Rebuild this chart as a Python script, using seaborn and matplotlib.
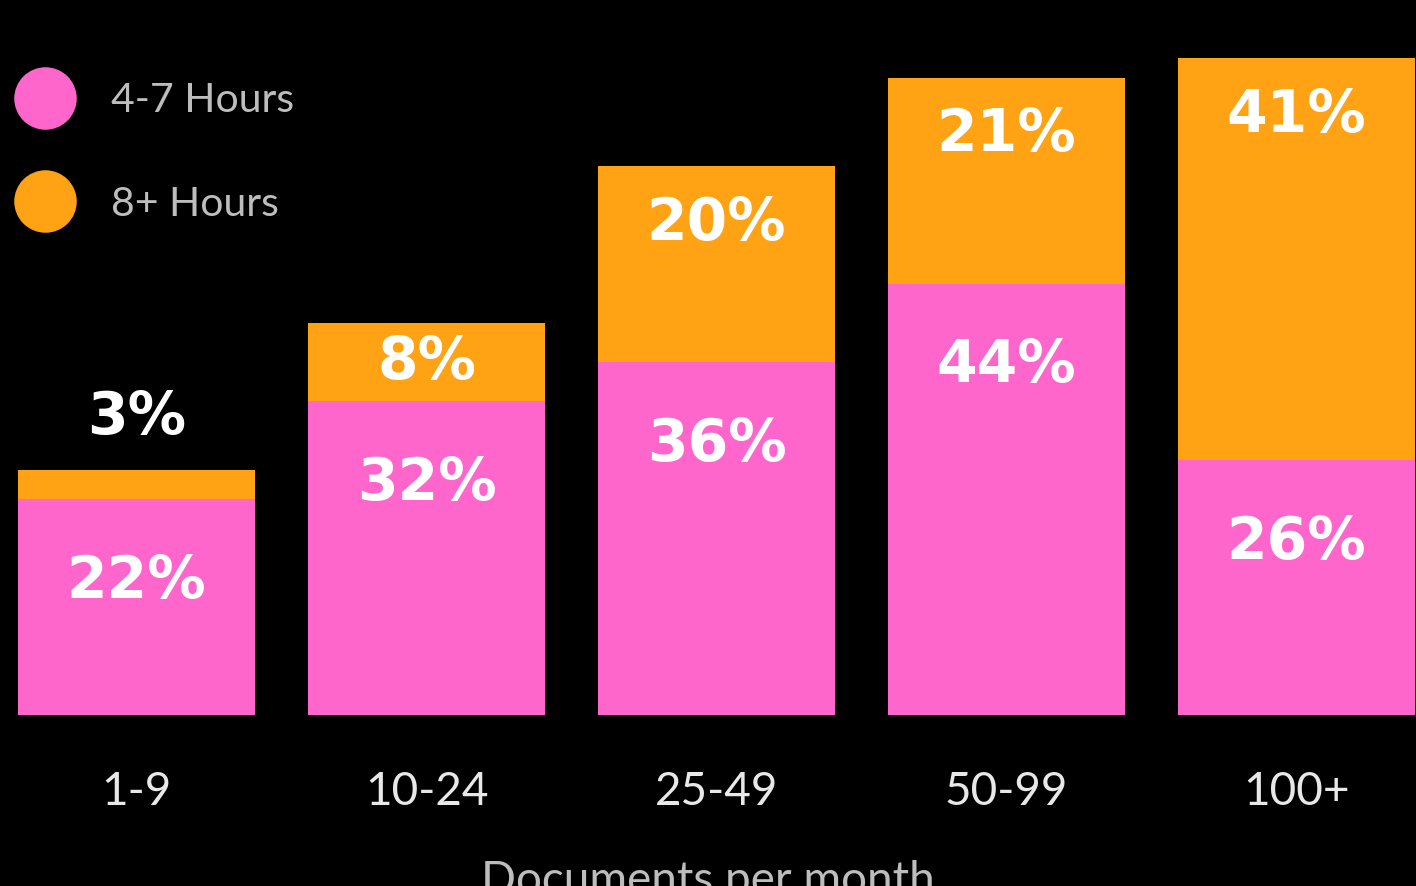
import numpy as np
import pandas as pd
import matplotlib
matplotlib.use("Agg")
import matplotlib.pyplot as plt
import seaborn as sns
from matplotlib.lines import Line2D

# dados
categorias = ["1-9", "10-24", "25-49", "50-99", "100+"]
horas_4_7 = [22, 32, 36, 44, 26]
horas_8_mais = [3, 8, 20, 21, 41]
legenda = ["4-7 Hours", "8+ Hours"]
titulo_x = "Documents per month"

rosa = "#FF66CC"
laranja = "#FFA214"

sns.set_theme(style="dark")
plt.rcParams["font.family"] = ["Lato", "DejaVu Sans"]

df = pd.DataFrame({"cat": categorias, "a": horas_4_7, "b": horas_8_mais})
df["total"] = df["a"] + df["b"]

fig = plt.figure(figsize=(14.16, 8.86), dpi=100, facecolor="black")
ax = fig.add_axes([0, 171 / 886, 1, 715 / 886])
ax.set_facecolor("black")

# barras empilhadas: total em laranja, rosa por cima
sns.barplot(data=df, x="cat", y="total", color=laranja, saturation=1, width=0.817,
            linewidth=0, ax=ax)
sns.barplot(data=df, x="cat", y="a", color=rosa, saturation=1, width=0.817,
            linewidth=0, ax=ax)

px = 9.8  # pixels por ponto percentual
ax.set_xlim(-0.4707, 4.412)
ax.set_ylim(0, 715 / px)

for s in ax.spines.values():
    s.set_visible(False)
ax.set_yticks([])
ax.tick_params(axis="x", length=0, pad=40, labelsize=33, labelcolor="#e8e8e8")
ax.set_xlabel(titulo_x, fontsize=33, color="#bdbdbd", labelpad=34)
ax.set_ylabel("")
ax.grid(False)

# rótulos
fonte = dict(fontsize=42, fontweight="bold", color="white", ha="center", va="center",
             family="DejaVu Sans")
for i, (a, b) in enumerate(zip(horas_4_7, horas_8_mais)):
    ax.text(i, a - 82 / px, f"{a}%", **fonte)
    topo = a + b
    if b >= 15:
        yb = topo - 57 / px
    elif b >= 5:
        yb = a + b / 2
    else:
        yb = topo + 52 / px
    ax.text(i, yb, f"{b}%", **fonte)

# legenda
handles = [Line2D([], [], marker="o", linestyle="", markersize=44, markerfacecolor=c,
                  markeredgecolor=c) for c in (rosa, laranja)]
leg = fig.legend(handles, legenda, loc="upper left", bbox_to_anchor=(0.0, 1 - 66 / 886),
                 frameon=False, fontsize=29.5, labelcolor="#bdbdbd", labelspacing=1.62,
                 handletextpad=0.9, borderaxespad=0, handlelength=1.4)

fig.savefig("out.png", dpi=100, facecolor="black")
